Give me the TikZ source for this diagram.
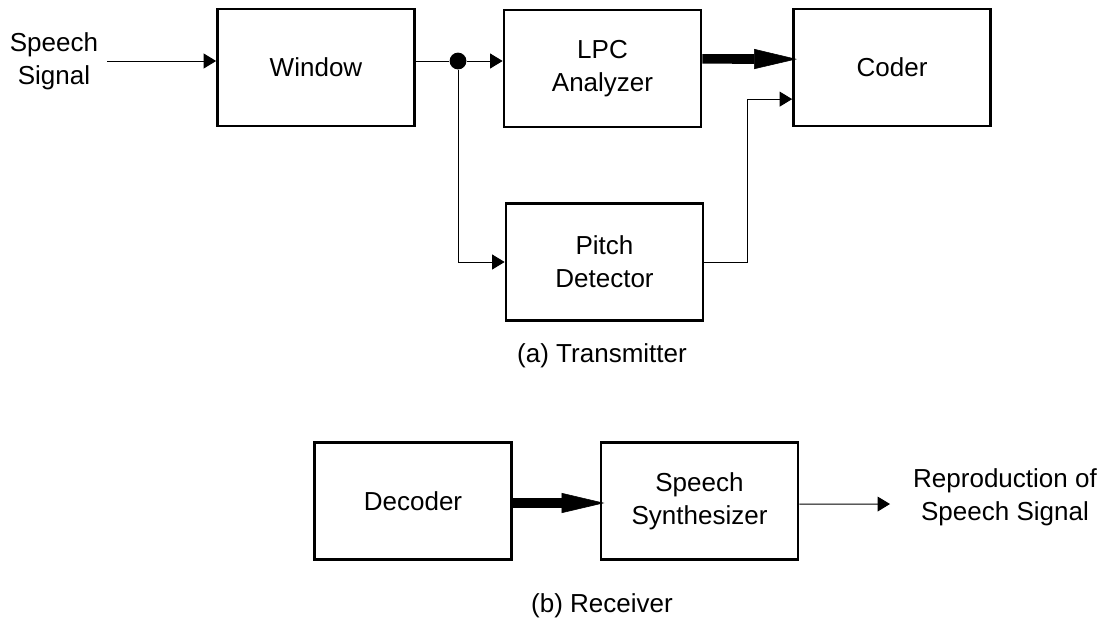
\documentclass[tikz,border=0pt]{standalone}
\usepackage{fontspec}
\setmainfont{Liberation Sans}
\usetikzlibrary{arrows.meta}

\begin{document}
\begin{tikzpicture}[x=0.025cm,y=-0.025cm,
                        block/.style={draw,line width=1.9pt,minimum width=4.925cm,minimum height=2.925cm,align=center},
                        sig/.style={line width=0.7pt,-{Triangle[length=0.31cm,width=0.37cm]}},
                        wire/.style={line width=0.7pt},
                        bus/.style={line width=6.8pt,shorten >=-0.12cm,-{Triangle[length=1.07cm,width=0.5cm,line width=0.4pt]}},
                        junction/.style={circle,fill,inner sep=0pt,minimum size=0.42cm}]
                        \fontsize{18.5}{23.5}\selectfont
                        \useasboundingbox (0,0) rectangle (1102,620);
                        % transmitter
                        \node (insig) at (54,61) [align=center] {Speech\\Signal};
                        \node[block] (window) at (316,67.5) {Window};
                        \node[block] (lpc) at (602.5,68.5) {LPC\\Analyzer};
                        \node[block] (coder) at (892,67.5) {Coder};
                        \node[block] (pitch) at (604.5,262) {Pitch\\Detector};
                        \node[junction] (split) at (458,61) {};
                        \draw[sig] (insig.east |- split) -- (window.west |- split);
                        \draw[wire] (window.east |- split) -- (split);
                        \draw[sig] (split) -- (lpc.west |- split);
                        \draw[sig] (split) |- (pitch.west);
                        \draw[bus] ([yshift=0.24cm]lpc.east) -- ([yshift=0.21cm]coder.west);
                        \draw[sig] (pitch.east) -- ++(43,0) |- ([yshift=-0.79cm]coder.west);
                        \node (txcap) at (602,356) {(a) Transmitter};
                        % receiver
                        \node[block] (decoder) at (413,501) {Decoder};
                        \node[block] (synth) at (699.5,501) {Speech\\Synthesizer};
                        \node (repro) at (1005,497) [align=center] {Reproduction of\\Speech Signal};
                        \coordinate (outtip) at (890,504);
                        \draw[bus] ([yshift=-0.05cm]decoder.east) -- ([yshift=-0.05cm]synth.west);
                        \draw[sig] ([yshift=-0.08cm]synth.east) -- (outtip);
                        \node (rxcap) at (602,606) {(b) Receiver};
                    \end{tikzpicture}
\end{document}
